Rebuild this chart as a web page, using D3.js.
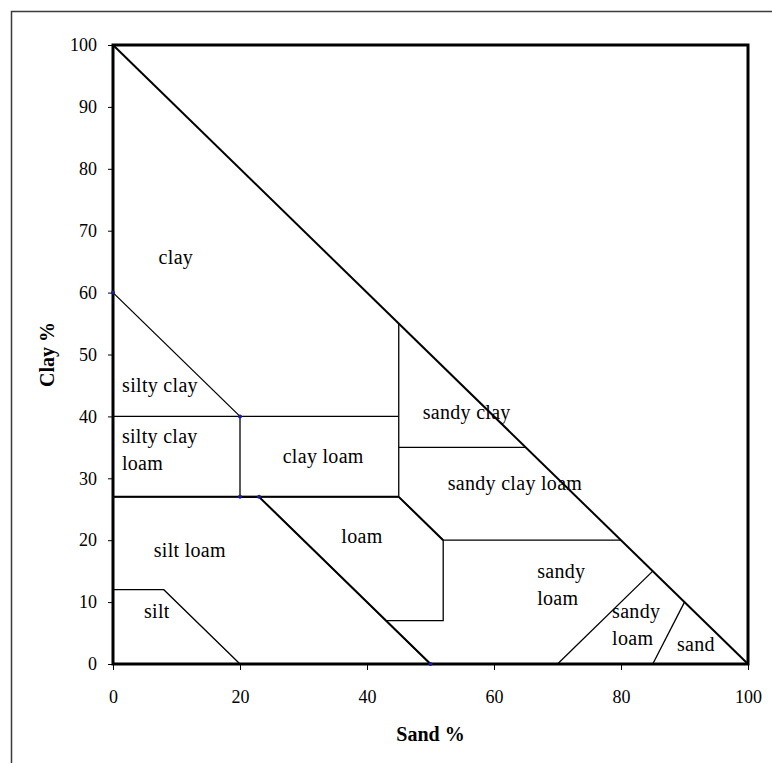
<!DOCTYPE html>
<html>
<head>
<meta charset="utf-8">
<script src="https://cdn.jsdelivr.net/npm/d3@7"></script>
<style>
  html, body { margin: 0; padding: 0; background: #fff; }
  svg { display: block; }
  text { font-family: "Liberation Serif", "Times New Roman", serif; fill: #000; }
</style>
</head>
<body>
<svg id="chart" width="772" height="763"></svg>
<script>
// ---- data (sand %, clay %) ----
const xTicks = [0, 20, 40, 60, 80, 100];
const yTicks = [0, 10, 20, 30, 40, 50, 60, 70, 80, 90, 100];

// outer triangle hypotenuse
const hypotenuse = [[0, 100], [100, 0]];

// texture-class boundary polylines
const boundaries = [
  [[0, 60], [20, 40]],
  [[0, 40], [45, 40]],
  [[20, 40], [20, 27]],
  [[0, 27], [45, 27]],
  [[45, 55], [45, 27]],
  [[45, 35], [65, 35]],
  [[45, 27], [52, 20], [80, 20]],
  [[52, 20], [52, 7], [43, 7]],
  [[23, 27], [50, 0]],
  [[0, 12], [8, 12], [20, 0]],
  [[70, 0], [85, 15]],
  [[85, 0], [90, 10]]
];
const heavyBoundaries = [
  [[0, 27], [45, 27]],
  [[20, 27], [23, 27]],
  [[23, 27], [50, 0]],
  [[45, 27], [52, 20]]
];

// blue marker points
const markers = [[0, 60], [20, 40], [20, 27], [23, 27], [50, 0]];

// class labels: text lines, sand, clay of first baseline, anchor
const labelText = [["clay"], ["silty clay"], ["silty clay", "loam"], ["clay loam"], ["silt loam"], ["loam"],
  ["sandy clay"], ["sandy clay loam"], ["sandy", "loam"], ["sandy", "loam"], ["silt"], ["sand"]];
const labelSand = [9.9, 7.4, 1.4, 33.1, 12.1, 39.2, 55.7, 63.3, 66.8, 78.6, 6.9, 91.8];
const labelClay = [64.6, 43.9, 35.7, 32.5, 17.3, 19.5, 39.6, 28.1, 13.9, 7.4, 7.4, 2.1];
const labelAnchor = ["middle", "middle", "start", "middle", "middle", "middle", "middle", "middle", "start", "start", "middle", "middle"];

// ---- drawing ----
const svg = d3.select("#chart");
const mLeft = 113, mRight = 748, mTop = 45, mBottom = 664;
const x = d3.scaleLinear().domain([0, 100]).range([mLeft, mRight]);
const y = d3.scaleLinear().domain([0, 100]).range([mBottom, mTop]);

// outer picture border (cropped at right/bottom)
svg.append("rect").attr("x", 11.5).attr("y", 11.5).attr("width", 800).attr("height", 800)
  .attr("fill", "none").attr("stroke", "#3a3a3a").attr("stroke-width", 1.5);

const line = d3.line().x(d => x(d[0])).y(d => y(d[1]));

// boundaries
svg.append("g").selectAll("path").data(boundaries).join("path")
  .attr("d", line).attr("fill", "none").attr("stroke", "#000").attr("stroke-width", 1.3);
svg.append("g").selectAll("path").data(heavyBoundaries).join("path")
  .attr("d", line).attr("fill", "none").attr("stroke", "#000").attr("stroke-width", 2);

// hypotenuse
svg.append("path").datum(hypotenuse).attr("d", line)
  .attr("fill", "none").attr("stroke", "#000").attr("stroke-width", 2);

// axes
const xAxis = d3.axisBottom(x).tickValues(xTicks).tickSize(6).tickPadding(20).tickFormat(d3.format("d"));
const yAxis = d3.axisLeft(y).tickValues(yTicks).tickSize(5).tickPadding(11).tickFormat(d3.format("d"));
const gx = svg.append("g").attr("transform", `translate(0,${mBottom})`).call(xAxis);
const gy = svg.append("g").attr("transform", `translate(${mLeft},0)`).call(yAxis);
[gx, gy].forEach(g => {
  g.select(".domain").remove();
  g.selectAll(".tick line").attr("stroke", "#000").attr("stroke-width", 1);
  g.selectAll(".tick text").attr("font-family", "Liberation Serif, serif").attr("font-size", 18).attr("fill", "#000");
});

// plot frame
svg.append("rect").attr("x", x(0)).attr("y", y(100))
  .attr("width", x(100) - x(0)).attr("height", y(0) - y(100))
  .attr("fill", "none").attr("stroke", "#000").attr("stroke-width", 3);

// markers
svg.append("g").selectAll("circle").data(markers).join("circle")
  .attr("cx", d => x(d[0])).attr("cy", d => y(d[1])).attr("r", 2)
  .attr("fill", "#1a1a9e");

// class labels
const lg = svg.append("g");
labelText.forEach((lines, i) => {
  const t = lg.append("text")
    .attr("x", x(labelSand[i])).attr("y", y(labelClay[i]))
    .attr("text-anchor", labelAnchor[i])
    .attr("font-size", 20).attr("letter-spacing", 0.3);
  lines.forEach((s, j) => {
    t.append("tspan").attr("x", x(labelSand[i])).attr("dy", j === 0 ? 0 : 27).text(s);
  });
});

// axis titles
svg.append("text").attr("x", (mLeft + mRight) / 2).attr("y", 741)
  .attr("text-anchor", "middle").attr("font-size", 20).attr("font-weight", "bold").text("Sand %");
svg.append("text").attr("transform", `translate(54,${(mTop + mBottom) / 2}) rotate(-90)`)
  .attr("text-anchor", "middle").attr("font-size", 20).attr("font-weight", "bold").text("Clay %");
</script>
</body>
</html>
